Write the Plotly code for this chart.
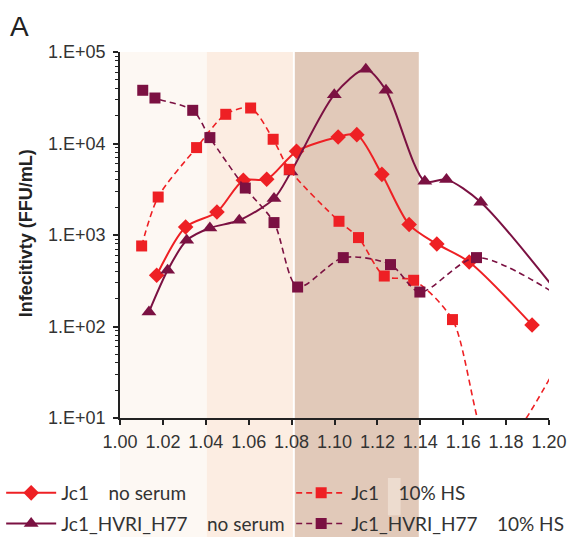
import plotly.graph_objects as go

# ---- data ----
jc1_ns_x = [1.0171, 1.0306, 1.0452, 1.0575, 1.0684, 1.0823, 1.1017, 1.1104, 1.1221, 1.1348, 1.1477, 1.1628, 1.1921]
jc1_ns_y = [363, 1222, 1783, 3960, 4060, 8220, 11780, 12500, 4600, 1300, 798, 507, 104]

hvr_ns_x = [1.0135, 1.0222, 1.0311, 1.0419, 1.0556, 1.0718, 1.0797, 1.0999, 1.1146, 1.1240, 1.1421, 1.1522, 1.1682, 1.2150]
hvr_ns_y = [144, 411, 875, 1193, 1448, 2500, 4880, 34200, 64700, 38100, 3860, 4030, 2280, 110]

jc1_hs_x = [1.0101, 1.0178, 1.0357, 1.0493, 1.0609, 1.0714, 1.0789, 1.1021, 1.1112, 1.1232, 1.1369, 1.1550, 1.1740, 1.2150]
jc1_hs_y = [759, 2600, 9020, 20850, 24430, 11120, 5220, 1412, 937, 356, 320, 119, 4, 120]

hvr_hs_x = [1.0106, 1.0163, 1.0339, 1.0419, 1.0584, 1.0718, 1.0828, 1.1041, 1.1261, 1.1398, 1.1662, 1.2150]
hvr_hs_y = [38150, 31420, 23050, 11600, 3260, 1367, 270, 566, 475, 238, 566, 150]

band_x0 = [1.000, 1.0405, 1.0815]
band_x1 = [1.0405, 1.0806, 1.1393]
band_colors = ["#FDF8F3", "#FCEDE2", "#E1C9B9"]

x_ticks = [1.00, 1.02, 1.04, 1.06, 1.08, 1.10, 1.12, 1.14, 1.16, 1.18, 1.20]
y_ticks = [10, 100, 1000, 10000, 100000]
y_labels = ["1.E+01", "1.E+02", "1.E+03", "1.E+04", "1.E+05"]

RED = "#EE2024"
PURPLE = "#7B1142"
SP = "\u00a0" * 4

fig = go.Figure()

fig.add_trace(go.Scatter(x=jc1_ns_x, y=jc1_ns_y, name="Jc1" + SP + "no serum", legend="legend", legendgroup="a",
                         mode="lines+markers", line=dict(color=RED, width=2, shape="spline", smoothing=0.8),
                         marker=dict(symbol="diamond", size=12, color=RED)))
fig.add_trace(go.Scatter(x=hvr_ns_x, y=hvr_ns_y, name="Jc1_HVRI_H77" + SP + "no serum", legend="legend", legendgroup="b",
                         mode="lines+markers", line=dict(color=PURPLE, width=2, shape="spline", smoothing=0.8),
                         marker=dict(symbol="triangle-up", size=13, color=PURPLE)))
fig.add_trace(go.Scatter(x=jc1_hs_x, y=jc1_hs_y, name="Jc1" + SP + "10% HS", legend="legend2", legendgroup="c",
                         mode="lines+markers", line=dict(color=RED, width=1.6, dash="6px,4px", shape="spline", smoothing=0.8),
                         marker=dict(symbol="square", size=11, color=RED)))
fig.add_trace(go.Scatter(x=hvr_hs_x, y=hvr_hs_y, name="Jc1_HVRI_H77" + SP + "10% HS", legend="legend2", legendgroup="d",
                         mode="lines+markers", line=dict(color=PURPLE, width=1.6, dash="6px,4px", shape="spline", smoothing=0.8),
                         marker=dict(symbol="square", size=11, color=PURPLE)))

for x0, x1, c in zip(band_x0, band_x1, band_colors):
    fig.add_shape(type="rect", xref="x", yref="paper", x0=x0, x1=x1, y0=-0.33, y1=1.0,
                  fillcolor=c, line=dict(width=0), layer="below")
# small light patch in legend area
fig.add_shape(type="rect", xref="x", yref="paper", x0=1.1249, x1=1.1308, y0=-0.164, y1=-0.266,
              fillcolor="#EDDCCF", line=dict(width=0), layer="below")

fig.add_annotation(text="A", xref="paper", yref="paper", x=-0.262, y=1.118, xanchor="left", yanchor="top",
                   showarrow=False, font=dict(size=28, color="#222", family="Liberation Sans"))
fig.add_annotation(text="<b>Infecitivty (FFU/mL)</b>", xref="paper", yref="paper", x=-0.219, y=0.505,
                   xanchor="center", yanchor="middle", textangle=-90, showarrow=False,
                   font=dict(size=18, color="#222", family="Liberation Sans"))

legend_common = dict(orientation="v", xanchor="left", yanchor="top", itemwidth=50,
                     font=dict(family="Lato, Noto Sans", size=19, color="#333"),
                     bgcolor="rgba(0,0,0,0)", tracegroupgap=3)
fig.update_layout(
    width=571, height=537,
    margin=dict(l=120, r=22, t=52, b=119, autoexpand=False),
    paper_bgcolor="white", plot_bgcolor="rgba(0,0,0,0)",
    showlegend=True,
    legend=dict(x=-0.277, y=-0.153, **legend_common),
    legend2=dict(x=0.399, y=-0.153, **legend_common),
    font=dict(family="Liberation Sans, Arial", color="#333"),
)
fig.update_xaxes(range=[1.0, 1.2], tickvals=x_ticks, ticktext=[f"{v:.2f}" for v in x_ticks],
                 showgrid=False, zeroline=False, showline=True, linecolor="#222", linewidth=1.5,
                 ticks="outside", ticklen=5, tickwidth=1.5, tickcolor="#222", ticklabelstandoff=2,
                 tickfont=dict(size=18, color="#333"))
fig.update_yaxes(type="log", range=[1, 5], tickvals=y_ticks, ticktext=y_labels,
                 showgrid=False, zeroline=False, showline=True, linecolor="#222", linewidth=1.5,
                 ticks="outside", ticklen=5, tickwidth=1.5, tickcolor="#222", ticklabelstandoff=4,
                 minor=dict(ticks="outside", ticklen=3, tickwidth=1, tickcolor="#222",
                            tickvals=[m * 10 ** e for e in range(1, 5) for m in range(2, 10)]),
                 tickfont=dict(size=18, color="#333"))

fig.write_html("out.html", config={"displayModeBar": False},
               post_script="document.body.style.margin='0';document.body.style.overflow='hidden';")
